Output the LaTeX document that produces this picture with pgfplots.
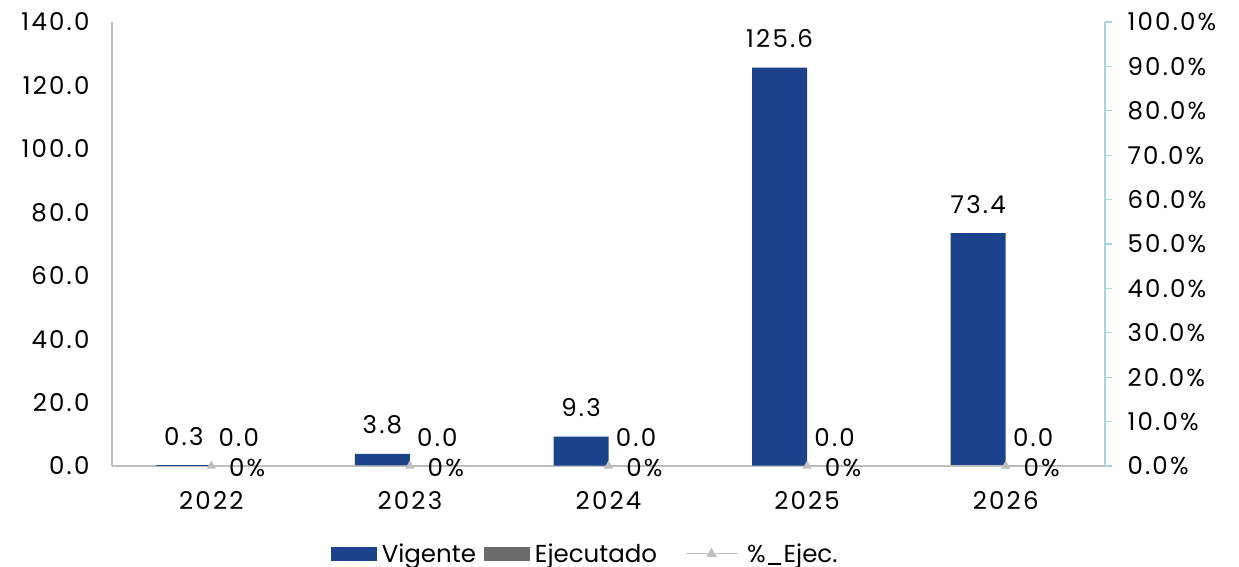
\documentclass[border=0pt]{standalone}
\usepackage{fontspec}
\setmainfont{Poppins}[LetterSpace=9]
\newfontfamily\legfont{Poppins}
\usepackage{pgfplots}
\pgfplotsset{compat=1.18}
\definecolor{vig}{RGB}{27,66,138}
\definecolor{eje}{RGB}{107,107,107}
\definecolor{lgray}{RGB}{191,191,191}
\definecolor{axgray}{RGB}{191,191,191}
\definecolor{axcyan}{RGB}{165,213,222}
\begin{document}
\begin{tikzpicture}[font=\fontsize{24.5}{28}\selectfont]
\useasboundingbox (-112pt,-101pt) rectangle (1127pt,466pt);
\begin{axis}[
  at={(0pt,0pt)}, anchor=south west,
  scale only axis, width=993pt, height=444pt,
  xmin=-0.5, xmax=4.5, ymin=0, ymax=140,
  clip=false,
  axis x line*=bottom, axis y line*=left,
  axis line style={draw=axgray, line width=1.2pt},
  major tick length=0pt,
  xtick={0,1,2,3,4}, xticklabels={2022,2023,2024,2025,2026},
  ytick={0,20,...,140},
  xticklabel style={yshift=-22pt},
  yticklabel style={xshift=-19pt},
  /pgf/number format/.cd, fixed, fixed zerofill, precision=1, assume math mode=true,
  /pgfplots/.cd,
  ybar, bar width=55pt,
  nodes near coords,
  every node near coord/.append style={text=black, yshift=16pt},
  legend columns=3,
  legend style={draw=none, at={(0.478,-0.198)}, anchor=center,
    font=\legfont\fontsize{24.5}{28}\selectfont,
    /tikz/every even column/.append style={column sep=3pt},
    nodes={inner xsep=5pt}},
]
\addplot[fill=vig, draw=none, bar shift=-27.5pt,
  legend image code/.code={\fill[vig] (0pt,-7pt) rectangle (46pt,7pt);}]
  coordinates {(0,0.3) (1,3.8) (2,9.3) (3,125.6) (4,73.4)};
\addlegendentry{Vigente}
\addplot[fill=eje, draw=none, bar shift=27.5pt,
  legend image code/.code={\fill[eje] (0pt,-7pt) rectangle (46pt,7pt);}]
  coordinates {(0,0) (1,0) (2,0) (3,0) (4,0)};
\addlegendentry{Ejecutado}
\addlegendimage{color=lgray, line width=1pt,
  legend image code/.code={\path (0pt,0pt) (76pt,0pt); \draw[lgray, line width=1pt] (20pt,0pt) -- (72pt,0pt);
    \fill[lgray] (46pt,5pt) -- (41.5pt,-2.5pt) -- (50.5pt,-2.5pt) -- cycle;}}
\addlegendentry{\%\_Ejec.}
\end{axis}
\begin{axis}[
  at={(0pt,0pt)}, anchor=south west,
  scale only axis, width=993pt, height=444pt,
  xmin=-0.5, xmax=4.5, ymin=0, ymax=100,
  clip=false,
  axis x line=none, axis y line*=right,
  y axis line style={draw=axcyan, line width=1.2pt},
  ytick style={draw=axcyan, line width=1.2pt},
  tick align=outside, major tick length=7pt,
  ytick={0,10,...,100},
  yticklabel={\pgfmathprintnumber[fixed, fixed zerofill, precision=1, assume math mode=true]{\tick}\%},
  yticklabel style={xshift=12pt},
]
\addplot[color=lgray, line width=1pt, mark=triangle*, mark size=4.5pt,
  nodes near coords={\pgfmathprintnumber[fixed, precision=0, assume math mode=true]{\pgfplotspointmeta}\%},
  every node near coord/.append style={text=black, anchor=west, xshift=14pt, yshift=-2pt}]
  coordinates {(0,0) (1,0) (2,0) (3,0) (4,0)};
\end{axis}
\end{tikzpicture}
\end{document}
